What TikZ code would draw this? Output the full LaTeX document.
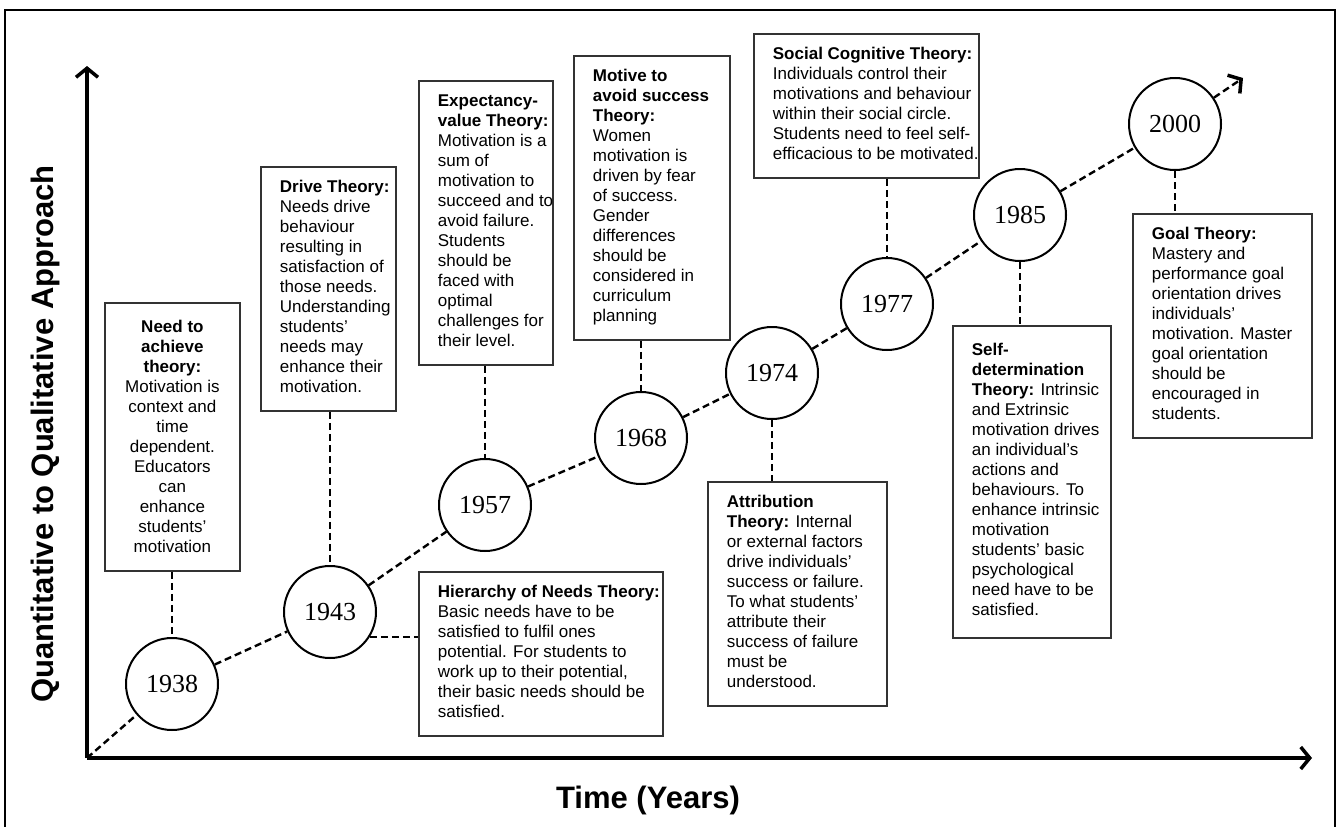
\documentclass[tikz,border=0pt]{standalone}
\usepackage{fontspec}
\setmainfont{Liberation Sans}
\newfontfamily\yearfont{Liberation Serif}
\usetikzlibrary{arrows.meta}
\newcommand\tbl[2]{\makebox[#1][l]{\hspace*{19pt}\begin{tabular}{@{}l@{}}#2\end{tabular}}}
\begin{document}
\begin{tikzpicture}[x=1pt,y=-1pt,
  tbox/.style={draw=black!80, line width=1.8pt, fill=white, inner xsep=0pt, inner ysep=12pt,
    font=\fontsize{17}{20}\selectfont, anchor=north west},
  yr/.style={circle, draw, line width=2pt, fill=white, minimum size=92pt, inner sep=0pt,
    font=\yearfont\fontsize{26}{26}\selectfont},
  conn/.style={line width=2.4pt, dash pattern=on 7pt off 4pt},
  axis/.style={line width=3.5pt, -{Straight Barb[length=9pt,width=22pt]}},
  lab/.style={font=\bfseries\fontsize{31}{31}\selectfont},
]
\useasboundingbox (0,0) rectangle (1339,827);
\draw[line width=2pt] (5,830) -- (5,10) -- (1335,10) -- (1335,830);

% axes
\coordinate (O) at (87,758);
\coordinate (ytip) at (87,66);
\coordinate (xtip) at (1312,758);
\draw[axis] (O) -- (ytip);
\draw[axis] (O) -- (xtip);
\node[lab, rotate=90] (ylab) at (45,434) {Quantitative to Qualitative Approach};
\node[lab] (xlab) at (648,800) {Time (Years)};

% year circles
\node[yr] (c1938) at (172,684) {1938};
\node[yr] (c1943) at (330,612) {1943};
\node[yr] (c1957) at (485,505) {1957};
\node[yr] (c1968) at (641,438) {1968};
\node[yr] (c1974) at (772,373) {1974};
\node[yr] (c1977) at (887,304) {1977};
\node[yr] (c1985) at (1020,215) {1985};
\node[yr] (c2000) at (1175,124) {2000};
\coordinate (tip) at (1243,78);

\draw[conn] (O) -- (c1938) -- (c1943) -- (c1957) -- (c1968) -- (c1974) -- (c1977) -- (c1985) -- (c2000);
\draw[conn, -{Straight Barb[length=9pt,width=22pt,line width=3.5pt]}] (c2000) -- (tip);

% theory boxes
\node[tbox, align=center, inner xsep=6pt, minimum width=135pt, minimum height=268pt] (b1) at (104,302)
  {\textbf{Need to}\\\textbf{achieve}\\\textbf{theory:}\\Motivation is\\context and\\time\\dependent.\\Educators\\can\\enhance\\students'\\motivation};
\node[tbox] (b2) at (260,166)
  {\tbl{135pt}{\textbf{Drive Theory:}\\Needs drive\\behaviour\\resulting in\\satisfaction of\\those needs.\\Understanding\\students'\\needs may\\enhance their\\motivation.}};
\node[tbox] (b3) at (418,80)
  {\tbl{134pt}{\textbf{Expectancy-}\\\textbf{value Theory:}\\Motivation is a\\sum of\\motivation to\\succeed and to\\avoid failure.\\Students\\should be\\faced with\\optimal\\challenges for\\their level.}};
\node[tbox] (b4) at (573,55)
  {\tbl{156pt}{\textbf{Motive to}\\\textbf{avoid success}\\\textbf{Theory:}\\Women\\motivation is\\driven by fear\\of success.\\Gender\\differences\\should be\\considered in\\curriculum\\planning}};
\node[tbox] (b5) at (753,33)
  {\tbl{225pt}{\textbf{Social Cognitive Theory:}\\Individuals control their\\motivations and behaviour\\within their social circle.\\Students need to feel self-\\efficacious to be motivated.}};
\node[tbox] (b6) at (418,571)
  {\tbl{244pt}{\textbf{Hierarchy of Needs Theory:}\\Basic needs have to be\\satisfied to fulfil ones\\potential. For students to\\work up to their potential,\\their basic needs should be\\satisfied.}};
\node[tbox] (b7) at (707,481)
  {\tbl{179pt}{\textbf{Attribution}\\\textbf{Theory:} Internal\\or external factors\\drive individuals'\\success or failure.\\To what students'\\attribute their\\success of failure\\must be\\understood.}};
\node[tbox, minimum height=312pt] (b8) at (952,325)
  {\tbl{158pt}{\textbf{Self-}\\\textbf{determination}\\\textbf{Theory:} Intrinsic\\and Extrinsic\\motivation drives\\an individual's\\actions and\\behaviours. To\\enhance intrinsic\\motivation\\students' basic\\psychological\\need have to be\\satisfied.}};
\node[tbox] (b9) at (1132,213)
  {\tbl{179pt}{\textbf{Goal Theory:}\\Mastery and\\performance goal\\orientation drives\\individuals'\\motivation. Master\\goal orientation\\should be\\encouraged in\\students.}};

% connectors
\draw[conn] (c1938 |- b1.south) -- (c1938);
\draw[conn] (c1943 |- b2.south) -- (c1943);
\draw[conn] (c1957 |- b3.south) -- (c1957);
\draw[conn] (c1968 |- b4.south) -- (c1968);
\draw[conn] (c1977 |- b5.south) -- (c1977);
\draw[conn] (c1943.-32) -- (c1943.-32 -| b6.west);
\draw[conn] (c1974) -- (c1974 |- b7.north);
\draw[conn] (c1985) -- (c1985 |- b8.north);
\draw[conn] (c2000) -- (c2000 |- b9.north);
\end{tikzpicture}
\end{document}
